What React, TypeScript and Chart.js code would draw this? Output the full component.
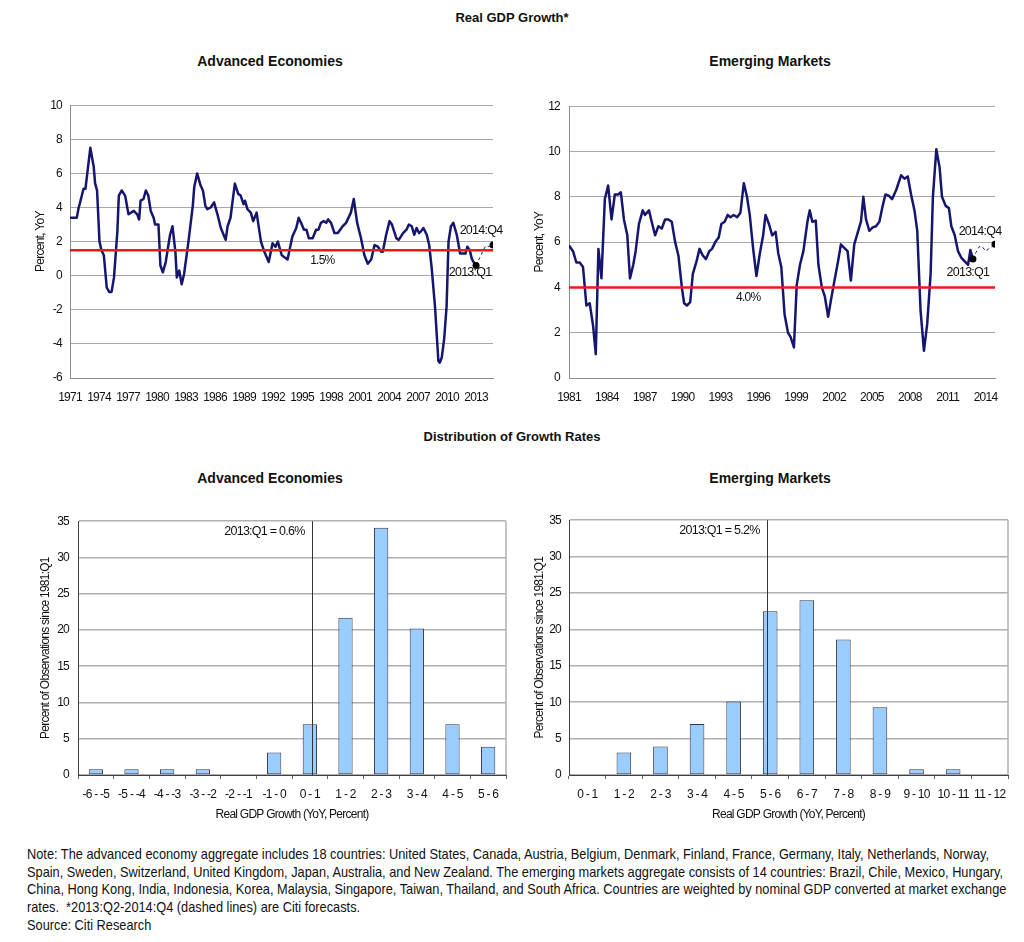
import React, { useEffect, useRef } from "react";
import { Chart, registerables } from "chart.js";

Chart.register(...registerables);

const SANS = '"Liberation Sans", Arial, Helvetica, sans-serif';
const NAVY = "#161670";
const RED = "#f01818";
const TEXT = "#111111";
const TICK_SIZE = 12;
const LETTER_SPACING = "-0.75px";

// ---------- Advanced economies, real GDP growth (YoY %) ----------
const advYears = [
  1971.0, 1971.7, 1971.9, 1972.0, 1972.4, 1972.6, 1973.1, 1973.45, 1973.6, 1973.8,
  1974.05, 1974.25, 1974.5, 1974.8, 1975.05, 1975.3, 1975.55, 1975.9, 1976.05, 1976.35,
  1976.7, 1977.05, 1977.6, 1977.95, 1978.15, 1978.3, 1978.6, 1978.85, 1979.1, 1979.35,
  1979.65, 1979.8, 1980.15, 1980.35, 1980.6, 1980.9, 1981.35, 1981.6, 1981.9, 1982.05,
  1982.3, 1982.55, 1982.8, 1983.25, 1983.7, 1983.85, 1984.15, 1984.5, 1984.75, 1985.0,
  1985.2, 1985.55, 1985.9, 1986.25, 1986.6, 1987.1, 1987.3, 1987.6, 1987.8, 1988.05,
  1988.4, 1988.65, 1988.95, 1989.1, 1989.35, 1989.7, 1989.95, 1990.3, 1990.75, 1991.1,
  1991.55, 1991.95, 1992.25, 1992.5, 1992.9, 1993.5, 1994.0, 1994.4, 1994.65, 1994.9,
  1995.2, 1995.45, 1995.7, 1996.1, 1996.45, 1996.7, 1996.95, 1997.25, 1997.5, 1997.7,
  1998.0, 1998.35, 1998.7, 1999.2, 1999.55, 2000.05, 2000.35, 2000.7, 2001.1, 2001.45,
  2001.8, 2002.15, 2002.5, 2002.85, 2003.2, 2003.35, 2003.7, 2004.05, 2004.3, 2004.75,
  2005.0, 2005.45, 2005.8, 2006.05, 2006.35, 2006.6, 2006.85, 2007.1, 2007.3, 2007.55,
  2007.9, 2008.15, 2008.4, 2008.75, 2009.1, 2009.25, 2009.45, 2009.7, 2009.95, 2010.15,
  2010.4, 2010.65, 2011.0, 2011.35, 2011.7, 2011.9, 2012.1, 2012.35, 2012.55, 2012.85,
  2013.0,
];
const advValues = [
  3.4, 3.4, 4.0, 4.2, 5.1, 5.1, 7.5, 6.4, 5.4, 5.0,
  2.0, 1.5, 1.2, -0.7, -0.95, -0.95, -0.1, 2.6, 4.7, 5.0,
  4.7, 3.6, 3.8, 3.6, 3.3, 4.4, 4.5, 5.0, 4.7, 3.8,
  3.4, 3.0, 3.0, 0.6, 0.2, 0.8, 2.4, 2.9, 1.4, -0.1,
  0.3, -0.5, 0.1, 2.0, 4.1, 5.2, 6.0, 5.3, 5.0, 4.1,
  3.9, 4.0, 4.3, 3.6, 2.8, 2.1, 2.9, 3.4, 4.3, 5.4,
  4.8, 4.7, 4.2, 4.4, 3.9, 3.7, 3.2, 3.7, 2.0, 1.4,
  0.8, 1.9, 1.7, 2.0, 1.2, 0.95, 2.3, 2.8, 3.4, 3.1,
  2.7, 2.7, 2.2, 2.2, 2.7, 2.7, 3.1, 3.2, 3.1, 3.3,
  3.1, 2.5, 2.5, 2.9, 3.1, 3.7, 4.5, 3.1, 2.2, 1.2,
  0.7, 0.95, 1.8, 1.7, 1.4, 1.4, 2.4, 3.2, 3.0, 2.2,
  2.1, 2.5, 2.7, 3.0, 2.9, 2.4, 2.8, 2.5, 2.6, 2.8,
  2.4, 1.8, 0.5, -1.8, -5.0, -5.1, -4.8, -3.7, -1.8, 2.0,
  2.9, 3.1, 2.4, 1.3, 1.3, 1.3, 1.7, 1.5, 1.0, 0.7,
  0.6,
];
const advForecastYears = [2013.0, 2013.25, 2013.5, 2013.75, 2014.0, 2014.25, 2014.5, 2014.75];
const advForecastValues = [0.6, 0.9, 1.2, 1.5, 1.75, 1.7, 1.75, 1.8];
const advYearTicks = [1971, 1974, 1977, 1980, 1983, 1986, 1989, 1992, 1995, 1998, 2001, 2004, 2007, 2010, 2013];
const advThreshold = 1.5;
const advThresholdLabel = "1.5%";
const advThresholdLabelYear = 1997.1;

// ---------- Emerging markets, real GDP growth (YoY %) ----------
const emYears = [
  1981.0, 1981.32, 1981.58, 1981.85, 1982.11, 1982.38, 1982.64, 1982.91, 1983.12, 1983.33,
  1983.57, 1983.84, 1984.1, 1984.37, 1984.63, 1984.9, 1985.11, 1985.35, 1985.62, 1985.83,
  1986.09, 1986.28, 1986.54, 1986.84, 1987.02, 1987.34, 1987.55, 1987.82, 1988.08, 1988.35,
  1988.61, 1988.88, 1989.14, 1989.41, 1989.67, 1989.94, 1990.12, 1990.34, 1990.6, 1990.81,
  1991.08, 1991.34, 1991.61, 1991.85, 1992.11, 1992.33, 1992.59, 1992.86, 1993.07, 1993.33,
  1993.57, 1993.79, 1994.05, 1994.32, 1994.58, 1994.85, 1995.1, 1995.32, 1995.59, 1995.85,
  1996.12, 1996.38, 1996.57, 1996.84, 1997.1, 1997.37, 1997.58, 1997.82, 1998.08, 1998.35,
  1998.56, 1998.82, 1999.04, 1999.3, 1999.57, 1999.89, 2000.07, 2000.28, 2000.55, 2000.76,
  2001.03, 2001.27, 2001.53, 2001.74, 2002.0, 2002.33, 2002.54, 2002.8, 2003.07, 2003.33,
  2003.6, 2003.86, 2004.13, 2004.32, 2004.53, 2004.79, 2005.06, 2005.32, 2005.59, 2005.85,
  2006.07, 2006.33, 2006.6, 2006.92, 2007.31, 2007.58, 2007.84, 2008.1, 2008.37, 2008.59,
  2008.85, 2009.12, 2009.38, 2009.65, 2009.83, 2010.1, 2010.36, 2010.55, 2010.84, 2011.1,
  2011.29, 2011.56, 2011.82, 2012.09, 2012.35, 2012.62, 2012.8, 2013.0,
];
const emValues = [
  5.85, 5.6, 5.1, 5.1, 4.9, 3.2, 3.3, 2.3, 1.05, 5.7,
  4.4, 7.9, 8.5, 7.0, 8.1, 8.1, 8.2, 7.0, 6.3, 4.4,
  5.0, 5.6, 6.8, 7.4, 7.2, 7.4, 6.9, 6.3, 6.7, 6.6,
  7.0, 7.0, 6.9, 6.0, 5.4, 4.0, 3.3, 3.2, 3.35, 4.6,
  5.1, 5.7, 5.4, 5.25, 5.6, 5.7, 6.0, 6.2, 6.8, 6.9,
  7.2, 7.1, 7.2, 7.1, 7.3, 8.6, 8.0, 7.2, 5.7, 4.5,
  5.5, 6.3, 7.2, 6.8, 6.3, 6.45, 5.5, 4.9, 2.8, 2.0,
  1.8, 1.35, 4.1, 5.0, 5.6, 6.9, 7.4, 6.9, 6.95, 5.0,
  4.0, 3.6, 2.7, 3.4, 4.2, 5.2, 5.9, 5.75, 5.6, 4.3,
  5.9, 6.4, 6.9, 8.0, 7.0, 6.5, 6.65, 6.7, 6.9, 7.6,
  8.1, 8.05, 7.9, 8.3, 8.95, 8.8, 8.9, 8.1, 7.4, 6.5,
  3.0, 1.2, 2.4, 4.6, 8.0, 10.1, 9.3, 8.0, 7.6, 7.5,
  6.7, 6.3, 5.6, 5.3, 5.15, 5.0, 5.65, 5.25,
];
const emForecastYears = [2013.0, 2013.25, 2013.5, 2013.75, 2014.0, 2014.25, 2014.5, 2014.75];
const emForecastValues = [5.25, 5.55, 5.8, 5.8, 5.6, 5.7, 5.8, 5.9];
const emYearTicks = [1981, 1984, 1987, 1990, 1993, 1996, 1999, 2002, 2005, 2008, 2011, 2014];
const emThreshold = 4.0;
const emThresholdLabel = "4.0%";
const emThresholdLabelYear = 1995.2;

// ---------- Distribution of growth rates ----------
const advBins = ["-6 - -5", "-5 - -4", "-4 - -3", "-3 - -2", "-2 - -1", "-1 - 0", "0 - 1", "1 - 2", "2 - 3", "3 - 4", "4 - 5", "5 - 6"];
const advBinLow = -6;
const advShares = [0.8, 0.8, 0.8, 0.8, 0, 3.1, 7.0, 21.7, 34.1, 20.2, 7.0, 3.9];
const advMarkerPos = 0.56;
const advMarkerLabel = "2013:Q1 = 0.6%";

const emBins = ["0 - 1", "1 - 2", "2 - 3", "3 - 4", "4 - 5", "5 - 6", "6 - 7", "7 - 8", "8 - 9", "9 - 10", "10 - 11", "11 - 12"];
const emBinLow = 0;
const emShares = [0, 3.1, 3.9, 7.0, 10.1, 22.5, 24.0, 18.6, 9.3, 0.8, 0.8, 0];
const emMarkerPos = 5.41;
const emMarkerLabel = "2013:Q1 = 5.2%";

const noteLines = [
  "Note: The advanced economy aggregate includes 18 countries: United States, Canada, Austria, Belgium, Denmark, Finland, France, Germany, Italy, Netherlands, Norway,",
  "Spain, Sweden, Switzerland, United Kingdom, Japan, Australia, and New Zealand. The emerging markets aggregate consists of 14 countries: Brazil, Chile, Mexico, Hungary,",
  "China, Hong Kong, India, Indonesia, Korea, Malaysia, Singapore, Taiwan, Thailand, and South Africa. Countries are weighted by nominal GDP converted at market exchange",
  "rates.  *2013:Q2-2014:Q4 (dashed lines) are Citi forecasts.",
  "Source: Citi Research",
];
const NOTE_SIZE = 14.5;
const NOTE_FIRST_LINE_WIDTH = 963;

const tickFont = { family: SANS, size: TICK_SIZE };

const condensePlugin = {
  id: "condense",
  beforeDraw(chart: any) {
    (chart.ctx as any).letterSpacing = LETTER_SPACING;
  },
  afterDraw(chart: any) {
    (chart.ctx as any).letterSpacing = "0px";
  },
};

type LineSpec = {
  years: number[];
  values: number[];
  fYears: number[];
  fValues: number[];
  ticks: number[];
  yMin: number;
  yMax: number;
  threshold: number;
  thrLabel: string;
  thrLabelYear: number;
  thrDy: number;
  q1Off: [number, number];
  q4Off: [number, number];
  axisWidth: number;
  titlePad: number;
  tickPad: number;
  padRight: number;
};

function makeLineConfig(s: LineSpec): any {
  const actual = s.years.map((x, i) => ({ x, y: s.values[i] }));
  const forecast = s.fYears.map((x, i) => ({ x, y: s.fValues[i] }));
  const markers = [forecast[0], forecast[forecast.length - 1]];
  const xMin = s.years[0];
  const xMax = s.fYears[s.fYears.length - 1];
  const labelPlugin = {
    id: "lineLabels",
    afterDatasetsDraw(chart: any) {
      const { ctx } = chart;
      const x = chart.scales.x;
      const y = chart.scales.y;
      ctx.save();
      ctx.fillStyle = TEXT;
      ctx.textAlign = "center";
      ctx.textBaseline = "middle";
      ctx.font = `12px ${SANS}`;
      ctx.fillText(s.thrLabel, x.getPixelForValue(s.thrLabelYear), y.getPixelForValue(s.threshold) + s.thrDy);
      const meta = chart.getDatasetMeta(1);
      const p0 = meta.data[0];
      const p1 = meta.data[1];
      ctx.font = `12.5px ${SANS}`;
      ctx.fillText("2013:Q1", p0.x + s.q1Off[0], p0.y + s.q1Off[1]);
      ctx.fillText("2014:Q4", p1.x + s.q4Off[0], p1.y + s.q4Off[1]);
      ctx.restore();
    },
  };
  return {
    type: "line",
    data: {
      datasets: [
        {
          data: [
            { x: xMin, y: s.threshold },
            { x: xMax, y: s.threshold },
          ],
          borderColor: RED,
          borderWidth: 2.5,
          pointRadius: 0,
        },
        {
          data: markers,
          showLine: false,
          pointRadius: 3.5,
          pointBackgroundColor: "#000",
          pointBorderColor: "#000",
          pointBorderWidth: 0,
        },
        {
          data: actual,
          borderColor: NAVY,
          borderWidth: 2.5,
          pointRadius: 0,
          borderJoinStyle: "round",
        },
        {
          data: forecast,
          borderColor: NAVY,
          borderWidth: 1,
          borderDash: [3, 3],
          pointRadius: 0,
        },
      ],
    },
    options: {
      animation: false,
      responsive: false,
      devicePixelRatio: 1,
      layout: { padding: { top: 8, right: s.padRight, left: 0, bottom: 0 } },
      plugins: { legend: { display: false }, tooltip: { enabled: false } },
      scales: {
        x: {
          type: "linear",
          min: xMin,
          max: xMax,
          afterBuildTicks: (sc: any) => {
            sc.ticks = s.ticks.map((v) => ({ value: v }));
          },
          afterFit: (sc: any) => {
            sc.height = 42;
          },
          ticks: {
            callback: (v: any) => String(v),
            font: tickFont,
            color: TEXT,
            padding: 12,
            maxRotation: 0,
            autoSkip: false,
          },
          grid: { display: false, drawTicks: false },
          border: { display: true, color: "#8c8c8c", width: 1 },
        },
        y: {
          min: s.yMin,
          max: s.yMax,
          ticks: { stepSize: 2, padding: s.tickPad, font: tickFont, color: TEXT },
          grid: { color: "#a8a8a8", lineWidth: 1, drawTicks: false },
          border: { display: true, color: "#8c8c8c", width: 1 },
          afterFit: (sc: any) => {
            sc.width = s.axisWidth;
          },
          title: {
            display: true,
            text: "Percent, YoY",
            font: tickFont,
            color: TEXT,
            padding: { top: s.titlePad, bottom: 0 },
          },
        },
      },
    },
    plugins: [condensePlugin, labelPlugin],
  };
}

type BarSpec = {
  bins: string[];
  shares: number[];
  binLow: number;
  markerPos: number;
  markerLabel: string;
  axisWidth: number;
  titlePad: number;
  tickPad: number;
  padTop: number;
  padRight: number;
};

function makeBarConfig(s: BarSpec): any {
  const markerPlugin = {
    id: "barMarker",
    afterDatasetsDraw(chart: any) {
      const { ctx, chartArea } = chart;
      const x = chart.scales.x;
      const px = Math.round(x.getPixelForValue(s.markerPos - s.binLow - 0.5)) + 0.5;
      ctx.save();
      ctx.strokeStyle = "#b0b0b0";
      ctx.lineWidth = 1.5;
      ctx.beginPath();
      ctx.moveTo(chartArea.right, chartArea.top);
      ctx.lineTo(chartArea.right, chartArea.bottom);
      ctx.stroke();
      ctx.strokeStyle = "#333";
      ctx.lineWidth = 1;
      ctx.beginPath();
      ctx.moveTo(px, chartArea.top);
      ctx.lineTo(px, chartArea.bottom);
      ctx.stroke();
      ctx.fillStyle = TEXT;
      ctx.font = `12.5px ${SANS}`;
      ctx.textAlign = "right";
      ctx.textBaseline = "middle";
      ctx.fillText(s.markerLabel, px - 8, chartArea.top + 10);
      ctx.restore();
    },
  };
  return {
    type: "bar",
    data: {
      labels: s.bins,
      datasets: [
        {
          data: s.shares,
          backgroundColor: "#99ccff",
          borderColor: "#33334d",
          borderWidth: 1,
          borderSkipped: false,
          barPercentage: 0.4,
          categoryPercentage: 1,
        },
      ],
    },
    options: {
      animation: false,
      responsive: false,
      devicePixelRatio: 1,
      layout: { padding: { top: s.padTop, right: s.padRight, left: 0, bottom: 0 } },
      plugins: { legend: { display: false }, tooltip: { enabled: false } },
      scales: {
        x: {
          grid: { display: true, drawOnChartArea: false, drawTicks: true, tickLength: 4, color: "#666", offset: true },
          border: { display: true, color: "#404040", width: 1 },
          ticks: { font: tickFont, color: TEXT, padding: 8, autoSkip: false, maxRotation: 0 },
          title: {
            display: true,
            text: "Real GDP Growth (YoY, Percent)",
            font: tickFont,
            color: TEXT,
            padding: { top: 0, bottom: 13 },
          },
          afterFit: (sc: any) => {
            sc.height = 60;
          },
        },
        y: {
          min: 0,
          max: 35,
          ticks: { stepSize: 5, padding: s.tickPad, font: tickFont, color: TEXT },
          grid: { color: "#b0b0b0", lineWidth: 1.5, drawTicks: false },
          border: { display: true, color: "#404040", width: 1 },
          afterFit: (sc: any) => {
            sc.width = s.axisWidth;
          },
          title: {
            display: true,
            text: "Percent of Observations since 1981:Q1",
            font: tickFont,
            color: TEXT,
            padding: { top: s.titlePad, bottom: 0 },
          },
        },
      },
    },
    plugins: [condensePlugin, markerPlugin],
  };
}

function ChartCanvas(props: { make: () => any; left: number; top: number; width: number; height: number }) {
  const ref = useRef<HTMLCanvasElement | null>(null);
  useEffect(() => {
    if (!ref.current) return;
    const chart = new Chart(ref.current, props.make());
    return () => chart.destroy();
  }, []);
  return (
    <canvas
      ref={ref}
      width={props.width}
      height={props.height}
      style={{ position: "absolute", left: props.left, top: props.top, width: props.width, height: props.height }}
    />
  );
}

function Heading(props: { text: string; cx: number; cy: number; size: number }) {
  return (
    <div
      style={{
        position: "absolute",
        left: props.cx - 250,
        top: props.cy - 9,
        width: 500,
        height: 18,
        lineHeight: "18px",
        textAlign: "center",
        fontFamily: SANS,
        fontWeight: "bold",
        fontSize: props.size,
        color: TEXT,
        whiteSpace: "nowrap",
      }}
    >
      {props.text}
    </div>
  );
}

function noteScale(): number {
  const c = document.createElement("canvas").getContext("2d");
  if (!c) return 0.82;
  c.font = `${NOTE_SIZE}px ${SANS}`;
  const w = c.measureText(noteLines[0]).width;
  return w > 0 ? NOTE_FIRST_LINE_WIDTH / w : 0.82;
}

export default function App() {
  const scale = noteScale();
  return (
    <div
      style={{
        position: "absolute",
        left: 0,
        top: 0,
        width: 1024,
        height: 942,
        background: "#ffffff",
        overflow: "hidden",
      }}
    >
      <Heading text="Real GDP Growth*" cx={512} cy={18} size={13} />
      <Heading text="Advanced Economies" cx={270} cy={61} size={14} />
      <Heading text="Emerging Markets" cx={770} cy={61} size={14} />
      <Heading text="Distribution of Growth Rates" cx={512} cy={437} size={13} />
      <Heading text="Advanced Economies" cx={270} cy={478} size={14} />
      <Heading text="Emerging Markets" cx={770} cy={478} size={14} />

      <ChartCanvas
        left={0}
        top={90}
        width={515}
        height={330}
        make={() =>
          makeLineConfig({
            years: advYears,
            values: advValues,
            fYears: advForecastYears,
            fValues: advForecastValues,
            ticks: advYearTicks,
            yMin: -6,
            yMax: 10,
            threshold: advThreshold,
            thrLabel: advThresholdLabel,
            thrLabelYear: advThresholdLabelYear,
            thrDy: 11,
            q1Off: [-6, 7],
            q4Off: [-12, -14],
            axisWidth: 70,
            titlePad: 33,
            tickPad: 8,
            padRight: 22,
          })
        }
      />
      <ChartCanvas
        left={512}
        top={90}
        width={512}
        height={330}
        make={() =>
          makeLineConfig({
            years: emYears,
            values: emValues,
            fYears: emForecastYears,
            fValues: emForecastValues,
            ticks: emYearTicks,
            yMin: 0,
            yMax: 12,
            threshold: emThreshold,
            thrLabel: emThresholdLabel,
            thrLabelYear: emThresholdLabelYear,
            thrDy: 10,
            q1Off: [-5, 13],
            q4Off: [-15, -13],
            axisWidth: 57,
            titlePad: 20,
            tickPad: 9,
            padRight: 29,
          })
        }
      />
      <ChartCanvas
        left={0}
        top={505}
        width={515}
        height={330}
        make={() =>
          makeBarConfig({
            bins: advBins,
            shares: advShares,
            binLow: advBinLow,
            markerPos: advMarkerPos,
            markerLabel: advMarkerLabel,
            axisWidth: 78,
            titlePad: 38,
            tickPad: 9,
            padTop: 9,
            padRight: 9,
          })
        }
      />
      <ChartCanvas
        left={512}
        top={505}
        width={512}
        height={330}
        make={() =>
          makeBarConfig({
            bins: emBins,
            shares: emShares,
            binLow: emBinLow,
            markerPos: emMarkerPos,
            markerLabel: emMarkerLabel,
            axisWidth: 57,
            titlePad: 20,
            tickPad: 8,
            padTop: 10,
            padRight: 16,
          })
        }
      />

      <div
        style={{
          position: "absolute",
          left: 27,
          top: 846,
          fontFamily: SANS,
          fontSize: NOTE_SIZE,
          lineHeight: "17.7px",
          color: TEXT,
          whiteSpace: "pre",
          transform: `scaleX(${scale})`,
          transformOrigin: "0 0",
        }}
      >
        {noteLines.map((l, i) => (
          <div key={i}>{l}</div>
        ))}
      </div>
    </div>
  );
}
